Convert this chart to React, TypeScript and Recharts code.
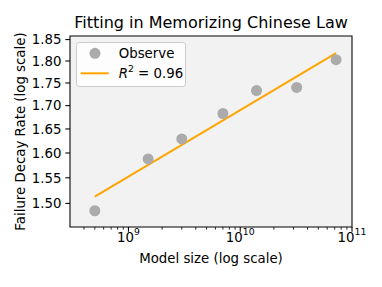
import {
  ComposedChart,
  Scatter,
  Line,
  XAxis,
  YAxis,
  CartesianGrid,
  ReferenceArea,
} from "recharts";

// observed points (model size vs failure decay rate)
const MODEL_SIZES = [5e8, 1.5e9, 3e9, 7e9, 1.4e10, 3.2e10, 7.2e10];
const DECAY_RATES = [1.486, 1.588, 1.629, 1.683, 1.733, 1.74, 1.803];

// fitted line endpoints
const FIT_X = [5e8, 7.2e10];
const FIT_Y = [1.513, 1.818];
const R2 = "0.96";

const X_DOMAIN = [3.0e8, 1e11];
const Y_DOMAIN = [1.4554, 1.8585];
const X_MAJOR = [1e9, 1e10, 1e11];
const X_MINOR = [
  4e8, 5e8, 6e8, 7e8, 8e8, 9e8, 2e9, 3e9, 4e9, 5e9, 6e9, 7e9, 8e9, 9e9, 2e10,
  3e10, 4e10, 5e10, 6e10, 7e10, 8e10, 9e10,
];
const Y_TICKS = [1.5, 1.55, 1.6, 1.65, 1.7, 1.75, 1.8, 1.85];

const observed = MODEL_SIZES.map((x, i) => ({ x, y: DECAY_RATES[i] }));
const fit = FIT_X.map((x, i) => ({ x, y: FIT_Y[i] }));

const FONT = "'DejaVu Sans', sans-serif";
const W = 382;
const H = 287;

const XTick = (props: any) => {
  const { x, y, payload } = props;
  const v = payload.value;
  const major = X_MAJOR.includes(v);
  return (
    <g>
      <line
        x1={x}
        x2={x}
        y1={y}
        y2={y + (major ? 4.7 : 2.7)}
        stroke="#000"
        strokeWidth={major ? 1.07 : 0.8}
      />
      {major && (
        <text x={x} y={y + 14.5} textAnchor="middle" fontSize={13.33} fill="#000" fontFamily={FONT}>
          10
          <tspan dy={-6.5} fontSize={9.3}>
            {Math.round(Math.log10(v))}
          </tspan>
        </text>
      )}
    </g>
  );
};

const YTick = (props: any) => {
  const { x, y, payload } = props;
  return (
    <g>
      <line x1={x - 4.7} x2={x} y1={y} y2={y} stroke="#000" strokeWidth={1.07} />
      <text x={x - 8.5} y={y + 4.8} textAnchor="end" fontSize={13.33} fill="#000" fontFamily={FONT}>
        {payload.value.toFixed(2)}
      </text>
    </g>
  );
};

const Dot = (props: any) => <circle cx={props.cx} cy={props.cy} r={5.5} fill="#ababab" />;

export default function App() {
  return (
    <div style={{ position: "fixed", left: 0, top: 0, width: W, height: H, background: "#fff" }}>
      <ComposedChart
        width={W}
        height={H}
        margin={{ top: 36, right: 30, bottom: 20, left: 0 }}
        style={{ fontFamily: FONT }}
      >
        <CartesianGrid horizontal={false} vertical={false} fill="#f2f2f2" />
        <XAxis
          dataKey="x"
          type="number"
          scale="log"
          domain={X_DOMAIN}
          ticks={[...X_MINOR, ...X_MAJOR]}
          allowDataOverflow
          height={40}
          axisLine={false}
          tickLine={false}
          tickSize={0}
          tickMargin={0}
          tick={<XTick />}
          interval={0}
        />
        <YAxis
          dataKey="y"
          type="number"
          scale="log"
          domain={Y_DOMAIN}
          ticks={Y_TICKS}
          allowDataOverflow
          width={70}
          axisLine={false}
          tickLine={false}
          tickSize={0}
          tickMargin={0}
          tick={<YTick />}
          interval={0}
        />
        <ReferenceArea
          x1={X_DOMAIN[0]}
          x2={X_DOMAIN[1]}
          y1={Y_DOMAIN[0]}
          y2={Y_DOMAIN[1]}
          fill="none"
          stroke="#000"
          strokeWidth={1.07}
        />
        <Scatter data={observed} dataKey="y" shape={<Dot />} isAnimationActive={false} />
        <Line
          data={fit}
          dataKey="y"
          type="linear"
          stroke="#ffa500"
          strokeWidth={2}
          dot={false}
          activeDot={false}
          isAnimationActive={false}
        />
      </ComposedChart>
      <svg
        width={W}
        height={H}
        style={{ position: "absolute", left: 0, top: 0, pointerEvents: "none" }}
        fontFamily={FONT}
      >
        <text x={211} y={27.5} textAnchor="middle" fontSize={16} fill="#000">
          Fitting in Memorizing Chinese Law
        </text>
        <text x={211} y={263} textAnchor="middle" fontSize={13.33} fill="#000">
          Model size (log scale)
        </text>
        <text transform="translate(25,131.5) rotate(-90)" textAnchor="middle" fontSize={13.33} fill="#000">
          Failure Decay Rate (log scale)
        </text>
        <rect x={76.5} y={42.5} width={109} height={44} rx={2.7} fill="rgba(255,255,255,0.8)" stroke="#cccccc" />
        <circle cx={95} cy={53.3} r={5.5} fill="#ababab" />
        <text x={118.7} y={58} fontSize={13.33} fill="#000">
          Observe
        </text>
        <line x1={80.7} x2={108.7} y1={73.3} y2={73.3} stroke="#ffa500" strokeWidth={2} />
        <text x={118.7} y={78} fontSize={13.33} fill="#000">
          <tspan fontStyle="italic">R</tspan>
          <tspan dy={-6} fontSize={9.3}>2</tspan>
          <tspan dy={6}>{` = ${R2}`}</tspan>
        </text>
      </svg>
    </div>
  );
}
